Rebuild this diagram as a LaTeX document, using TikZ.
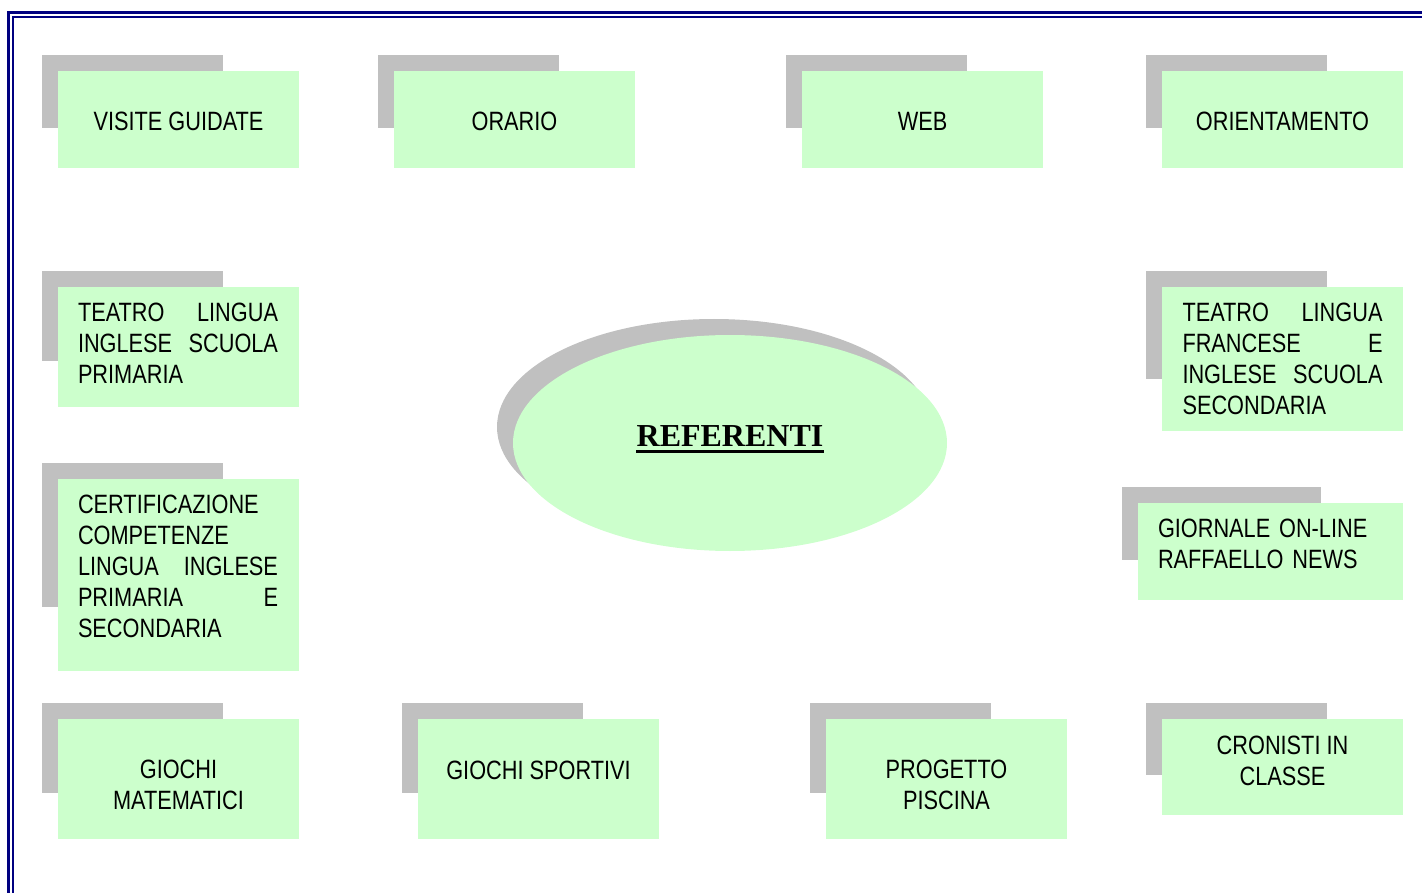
\documentclass[tikz,border=0pt]{standalone}
\usepackage{fontspec}
\setmainfont{Liberation Sans}[FakeStretch=0.82]
\newfontfamily\titlefont{Liberation Serif}
\usepackage{tikz}
\usetikzlibrary{shapes.geometric, positioning, calc}
\definecolor{boxgreen}{HTML}{CCFFCC}
\definecolor{backgray}{HTML}{C0C0C0}
\definecolor{framenavy}{HTML}{000080}
\hyphenpenalty=10000
\exhyphenpenalty=10000

\begin{document}
\begin{tikzpicture}[x=1pt, y=-1pt, font=\fontsize{26.5}{31}\selectfont,
    back/.style={fill=backgray},
    front/.style={fill=boxgreen},
    lbl/.style={inner sep=0, align=center},
    jlbl/.style={inner sep=0, text width=200pt, align=justify}]
				\useasboundingbox (0,0) rectangle (1422,893);
				\clip (0,0) rectangle (1422,893);
				% double frame
				\draw[framenavy, line width=3pt] (8.3,12.5) rectangle (1450,920);
				\draw[framenavy, line width=1.8pt] (13,17) rectangle (1450,920);
				
				% centre
				\fill[back] (714,427) ellipse [x radius=217, y radius=108];
				\node[ellipse, front, minimum width=434pt, minimum height=216pt, inner sep=0] (centre) at (730,443) {};
				\node[inner sep=0] (ref) at (730,436) {\titlefont\bfseries\fontsize{32}{36}\selectfont REFERENTI};
				\draw[line width=3pt] ([yshift=-5pt]ref.base west) -- ([yshift=-5pt]ref.base east);
				
				% top row
				\fill[back] (42,55) rectangle (222.75,127.75);
				\fill[front] (58,71) rectangle (299,168);
				\node[lbl] (visite) at (178.5,121.5) {VISITE GUIDATE};
				
				\fill[back] (378,55) rectangle (558.75,127.75);
				\fill[front] (394,71) rectangle (635,168);
				\node[lbl] (orario) at (514.5,121.5) {ORARIO};
				
				\fill[back] (786,55) rectangle (966.75,127.75);
				\fill[front] (802,71) rectangle (1043,168);
				\node[lbl] (web) at (922.5,121.5) {WEB};
				
				\fill[back] (1146,55) rectangle (1326.75,127.75);
				\fill[front] (1162,71) rectangle (1403,168);
				\node[lbl] (orient) at (1282.5,121.5) {ORIENTAMENTO};
				
				% left column
				\fill[back] (42,271) rectangle (222.75,361);
				\fill[front] (58,287) rectangle (299,407);
				\node[jlbl] (teatroing) at (178,343) {TEATRO LINGUA\linebreak INGLESE SCUOLA\linebreak PRIMARIA};
				
				\fill[back] (42,463) rectangle (222.75,607);
				\fill[front] (58,479) rectangle (299,671);
				\node[jlbl] (certif) at (178,566) {CERTIFICAZIONE\linebreak COMPETENZE\linebreak LINGUA INGLESE\linebreak PRIMARIA E\linebreak SECONDARIA};
				
				% right column
				\fill[back] (1146,271) rectangle (1326.75,379);
				\fill[front] (1162,287) rectangle (1403,431);
				\node[jlbl] (teatrofr) at (1282.5,358.5) {TEATRO LINGUA\linebreak FRANCESE E\linebreak INGLESE SCUOLA\linebreak SECONDARIA};
				
				\fill[back] (1122,487) rectangle (1320.75,559.75);
				\fill[front] (1138,503) rectangle (1403,600);
				\node[lbl, text width=225pt, align=left] (giornale) at (1270.5,543.5) {GIORNALE ON-LINE\\ RAFFAELLO NEWS};
				
				% bottom row
				\fill[back] (42,703) rectangle (222.75,793);
				\fill[front] (58,719) rectangle (299,839);
				\node[lbl] (giochimat) at (178.5,784.5) {GIOCHI\\ MATEMATICI};
				
				\fill[back] (402,703) rectangle (582.75,793);
				\fill[front] (418,719) rectangle (659,839);
				\node[lbl] (giochisport) at (538.5,770) {GIOCHI SPORTIVI};
				
				\fill[back] (810,703) rectangle (990.75,793);
				\fill[front] (826,719) rectangle (1067,839);
				\node[lbl] (piscina) at (946.5,784.5) {PROGETTO\\ PISCINA};
				
				\fill[back] (1146,703) rectangle (1326.75,775);
				\fill[front] (1162,719) rectangle (1403,815);
				\node[lbl] (cronisti) at (1282.5,760.5) {CRONISTI IN\\ CLASSE};
			\end{tikzpicture}
\end{document}
